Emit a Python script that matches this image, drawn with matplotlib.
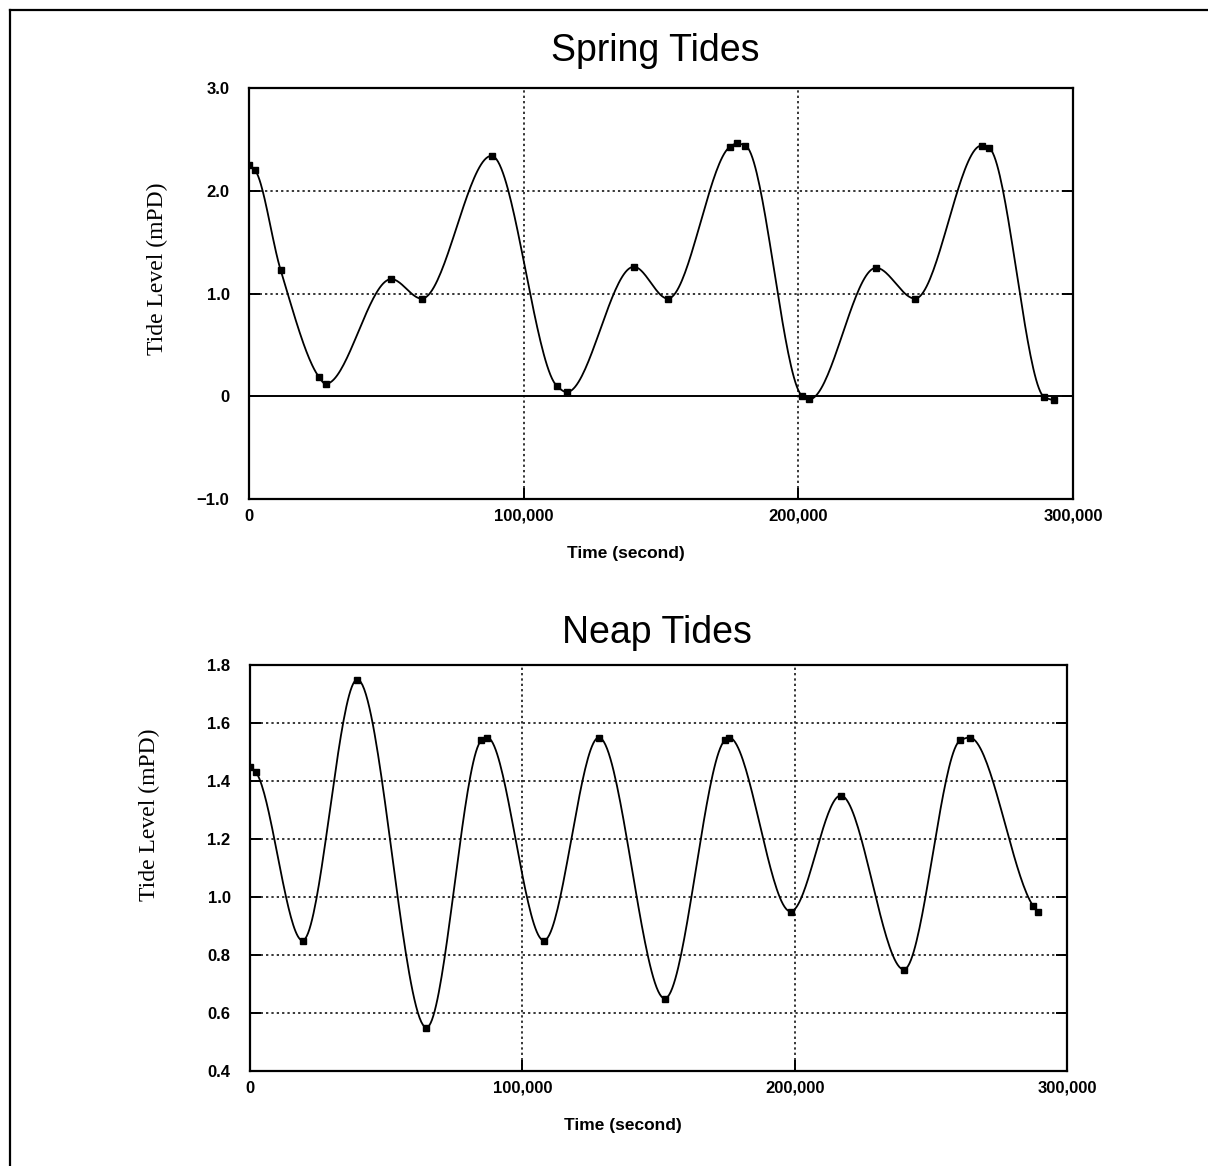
import numpy as np
import matplotlib
matplotlib.use("Agg")
import matplotlib.pyplot as plt
from matplotlib.lines import Line2D

# ---- data ----
spring_t = [0, 2200, 11500, 25400, 27900, 51800, 62900, 88300, 112100, 115700,
            140100, 152500, 175200, 177700, 180700, 201500, 204000, 228300,
            242500, 266700, 269300, 289600, 293000]
spring_v = [2.25, 2.20, 1.23, 0.19, 0.12, 1.14, 0.95, 2.34, 0.10, 0.04,
            1.26, 0.95, 2.43, 2.46, 2.44, 0.00, -0.03, 1.25,
            0.95, 2.44, 2.42, -0.01, -0.04]

neap_t = [0, 2200, 19300, 39400, 64800, 85000, 87100, 107900, 128100, 152300,
          174300, 175900, 198500, 216900, 240100, 260800, 264200, 287500, 289300]
neap_v = [1.45, 1.43, 0.85, 1.75, 0.55, 1.54, 1.55, 0.85, 1.55, 0.65,
          1.54, 1.55, 0.95, 1.35, 0.75, 1.54, 1.55, 0.97, 0.95]

x_ticks = [0, 100000, 200000, 300000]
x_ticklabels = ["0", "100,000", "200,000", "300,000"]
spring_yticks = [-1.0, 0, 1.0, 2.0, 3.0]
spring_yticklabels = ["\u22121.0", "0", "1.0", "2.0", "3.0"]
neap_yticks = [0.4, 0.6, 0.8, 1.0, 1.2, 1.4, 1.6, 1.8]
neap_yticklabels = ["0.4", "0.6", "0.8", "1.0", "1.2", "1.4", "1.6", "1.8"]


def smooth_line(x, y, n=40):
    """Monotone cubic Hermite (Fritsch-Carlson) path through the points."""
    x = np.asarray(x, float)
    y = np.asarray(y, float)
    h = np.diff(x)
    d = np.diff(y) / h
    m = np.zeros_like(y)
    for i in range(1, len(y) - 1):
        if d[i - 1] * d[i] > 0:
            w1 = 2 * h[i] + h[i - 1]
            w2 = h[i] + 2 * h[i - 1]
            m[i] = (w1 + w2) / (w1 / d[i - 1] + w2 / d[i])
    m[0] = d[0]
    m[-1] = d[-1]
    xs, ys = [], []
    for i in range(len(h)):
        s = np.linspace(0, 1, n, endpoint=False)
        h00 = 2 * s**3 - 3 * s**2 + 1
        h10 = s**3 - 2 * s**2 + s
        h01 = -2 * s**3 + 3 * s**2
        h11 = s**3 - s**2
        xs.append(x[i] + s * h[i])
        ys.append(h00 * y[i] + h10 * h[i] * m[i] + h01 * y[i + 1] + h11 * h[i] * m[i + 1])
    xs.append([x[-1]])
    ys.append([y[-1]])
    return np.concatenate(xs), np.concatenate(ys)


W, H = 1208, 1166
fig = plt.figure(figsize=(W / 100, H / 100), dpi=100)
fig.patch.set_facecolor("white")

tick_font = dict(family="Liberation Sans", weight="bold", size=12)
label_font = dict(family="Liberation Sans", weight="bold", size=12.5)


def setup(ax, t, v, yticks, yticklabels, ylim, title, title_x, title_y, ylabel_xy, zero_line):
    xs, ys = smooth_line(t, v)
    ax.plot(xs, ys, color="black", lw=1.3, zorder=3)
    ax.plot(t, v, linestyle="none", marker="s", markersize=4.3, color="black", zorder=4)
    ax.set_xlim(0, 300000)
    ax.set_ylim(*ylim)
    ax.set_xticks(x_ticks)
    ax.set_xticklabels(x_ticklabels, fontdict=tick_font)
    ax.set_yticks(yticks)
    ax.set_yticklabels(yticklabels, fontdict=tick_font)
    ax.tick_params(axis="both", direction="in", length=8, width=1.4, colors="black",
                   right=True, top=False, pad=7)
    ax.tick_params(axis="y", pad=14)
    for s in ax.spines.values():
        s.set_linewidth(1.6)
        s.set_color("black")
    # grid
    for yt in yticks[1:-1]:
        if zero_line and yt == 0:
            ax.axhline(yt, color="black", lw=1.4, zorder=2)
        else:
            ax.axhline(yt, color="black", lw=1.1, linestyle=(0, (1.5, 2.0)), zorder=2)
    for xt in x_ticks[1:-1]:
        ax.axvline(xt, color="black", lw=1.1, linestyle=(0, (1.5, 2.0)), zorder=2)
    ax.set_xlabel("Time (second)", fontdict=label_font)
    ax.xaxis.set_label_coords(0.457, -0.115)
    ax.set_ylabel("Tide Level (mPD)", family="Liberation Serif", size=17)
    ax.yaxis.set_label_coords(*ylabel_xy)
    fig.text(title_x, title_y, title,
             ha="center", va="center", family="Liberation Sans", size=27)


ax1 = fig.add_axes([249 / W, 1 - 499 / H, 824 / W, 411 / H])
setup(ax1, spring_t, spring_v, spring_yticks, spring_yticklabels, (-1.0, 3.0),
      "Spring Tides", 655 / W, 1 - 51 / H, (-0.098, 0.56), True)

ax2 = fig.add_axes([250 / W, 1 - 1071 / H, 817 / W, 406 / H])
setup(ax2, neap_t, neap_v, neap_yticks, neap_yticklabels, (0.4, 1.8),
      "Neap Tides", 657 / W, 1 - 633 / H, (-0.110, 0.63), False)

# outer frame of the page
fig.add_artist(Line2D([10 / W, 10 / W], [0, 1 - 10 / H], transform=fig.transFigure,
                      color="black", lw=1.6))
fig.add_artist(Line2D([10 / W, 1], [1 - 10 / H, 1 - 10 / H], transform=fig.transFigure,
                      color="black", lw=1.6))

fig.savefig("out.png", dpi=100, facecolor="white")
